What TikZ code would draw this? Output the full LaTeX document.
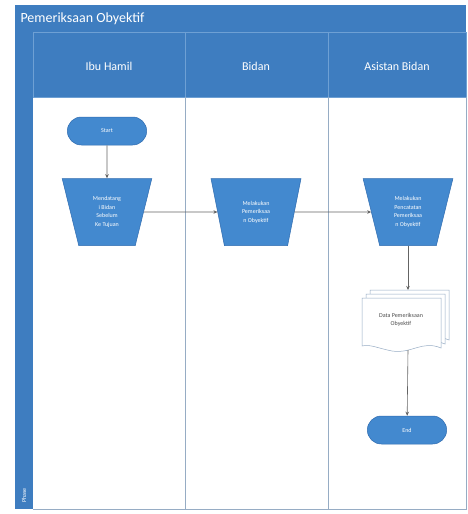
\documentclass[tikz,border=0pt]{standalone}
\usepackage{fontspec}
\setmainfont{Carlito}
\usetikzlibrary{shapes.geometric,arrows.meta}
\definecolor{laneblue}{RGB}{62,125,192}
\definecolor{shapeblue}{RGB}{67,137,207}
\definecolor{shapeline}{RGB}{48,108,176}
\definecolor{divider}{RGB}{150,172,196}
\definecolor{headline}{RGB}{110,160,212}
\definecolor{flow}{RGB}{100,100,100}
\tikzset{
  terminal/.style={rounded rectangle, fill=shapeblue, draw=shapeline, line width=0.5pt,
    minimum width=86pt, minimum height=28pt, text=white, font=\fontsize{6}{8}\selectfont},
  manualop/.style={trapezium, shape border rotate=180, trapezium stretches=true,
    trapezium angle=75, fill=shapeblue, draw=shapeline, line width=0.5pt,
    minimum width=90pt, minimum height=67pt, text=white, align=center,
    font=\fontsize{6}{8.5}\selectfont, inner sep=0pt},
  lanehead/.style={text=white, font=\fontsize{12}{14}\selectfont},
  flowline/.style={draw=flow, line width=0.6pt, -{Stealth[length=4pt,width=3.5pt]}},
  docsheet/.style={fill=white, draw=divider, line width=0.5pt},
}
\usetikzlibrary{shapes.misc}
\begin{document}
\begin{tikzpicture}[x=1pt,y=-1pt]
\useasboundingbox (0,0) rectangle (468,514);
% pool frame: title bar, phase stripe and lane headers
\fill[laneblue] (15,5) rectangle (466,97);
\fill[laneblue] (15,5) rectangle (33,509);
\fill[white] (33,97) rectangle (466,509);
\draw[headline, line width=0.4pt] (33,32) rectangle (466,97);
\draw[headline, line width=0.4pt] (185,32) -- (185,97) (328,32) -- (328,97);
\draw[divider, line width=0.6pt] (466,97) -- (466,509) -- (33,509);
\draw[divider, line width=0.8pt] (185,97) -- (185,509) (328,97) -- (328,509);
\node[anchor=west, text=white, font=\fontsize{14}{16}\selectfont] (title) at (17,19) {Pemeriksaan Obyektif};
\node[lanehead] (lane1) at (109,66) {Ibu Hamil};
\node[lanehead] (lane2) at (256,66) {Bidan};
\node[lanehead] (lane3) at (397,66) {Asistan Bidan};
\node[rotate=90, anchor=west, text=white, font=\fontsize{6}{7}\selectfont] (phase) at (24,506) {Phase};
% flow shapes
\node[terminal] (start) at (107,131) {Start};
\node[manualop] (visit) at (107,212) {Mendatang\\i Bidan\\Sebelum\\Ke Tujuan};
\node[manualop] (exam) at (256,212) {Melakukan\\Pemeriksaa\\n Obyektif};
\node[manualop] (record) at (408,212) {Melakukan\\Pencatatan\\Pemeriksaa\\n Obyektif};
% stacked documents
\draw[docsheet] (370,290) -- (449,290) -- (449,340) .. controls (430,332) and (420,346) .. (400,343) .. controls (385,340) and (378,336) .. (370,338) -- cycle;
\draw[docsheet] (366,294) -- (445,294) -- (445,344) .. controls (426,336) and (416,350) .. (396,347) .. controls (381,344) and (374,340) .. (366,342) -- cycle;
\draw[docsheet] (362,298) -- (441,298) -- (441,348) .. controls (422,340) and (412,354) .. (392,351) .. controls (377,348) and (370,344) .. (362,346) -- cycle;
\node[text=black!70, align=center, font=\fontsize{6}{8}\selectfont] (data) at (401,320) {Data Pemeriksaan\\Obyektif};
\coordinate (docin) at (408,290);
\coordinate (docout) at (408,350);
\node[terminal] (finish) at (407,430) {End};
% connectors
\draw[flowline] (start) -- (visit);
\draw[flowline] (visit) -- (exam);
\draw[flowline] (exam) -- (record);
\draw[flowline] (record) -- (docin);
\draw[flowline] (docout) -- (finish);
\end{tikzpicture}
\end{document}
